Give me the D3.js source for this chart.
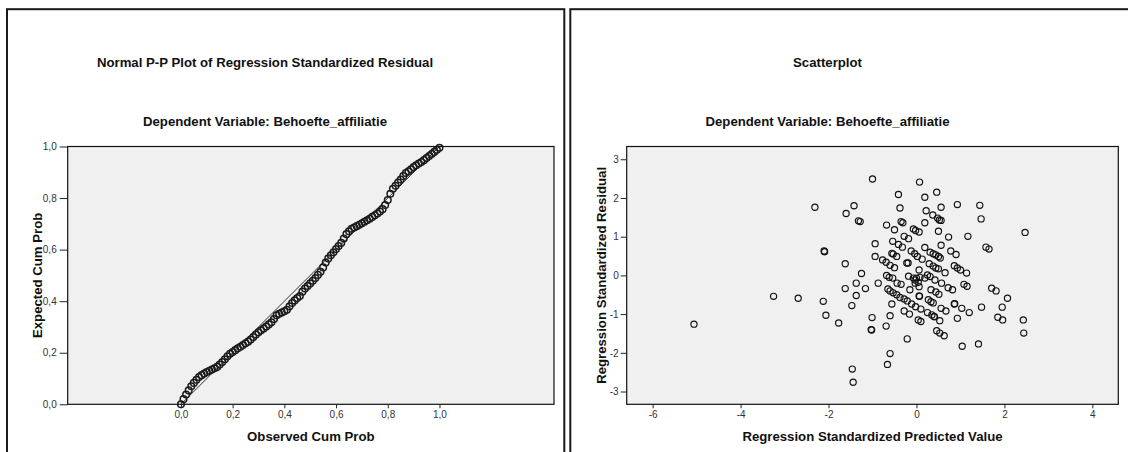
<!DOCTYPE html>
<html>
<head>
<meta charset="utf-8">
<script src="https://cdn.jsdelivr.net/npm/d3@7"></script>
<style>
  html, body { margin: 0; padding: 0; background: #fff; }
  svg { display: block; font-family: Arial, "Liberation Sans", sans-serif; }
</style>
</head>
<body>
<svg id="chart" width="1128" height="452"></svg>
<script>
// ---------- Data ----------
const ppTitle = "Normal P-P Plot of Regression Standardized Residual";
const scTitle = "Scatterplot";
const subTitle = "Dependent Variable: Behoefte_affiliatie";

const ppTicks = [0, 0.2, 0.4, 0.6, 0.8, 1.0];
const scXTicks = [-6, -4, -2, 0, 2, 4];
const scYTicks = [-3, -2, -1, 0, 1, 2, 3];

const ppObserved = [
  0.00,0.01,0.02,0.03,0.04,0.05,0.06,0.07,0.08,0.09,
  0.10,0.11,0.12,0.13,0.14,0.15,0.16,0.17,0.18,0.19,
  0.20,0.21,0.22,0.23,0.24,0.25,0.26,0.27,0.28,0.29,
  0.30,0.31,0.32,0.33,0.34,0.35,0.36,0.37,0.38,0.39,
  0.40,0.41,0.42,0.43,0.44,0.45,0.46,0.47,0.48,0.49,
  0.50,0.51,0.52,0.53,0.54,0.55,0.56,0.57,0.58,0.59,
  0.60,0.61,0.62,0.63,0.64,0.65,0.66,0.67,0.68,0.69,
  0.70,0.71,0.72,0.73,0.74,0.75,0.76,0.77,0.78,0.79,
  0.80,0.81,0.82,0.83,0.84,0.85,0.86,0.87,0.88,0.89,
  0.90,0.91,0.92,0.93,0.94,0.95,0.96,0.97,0.98,0.99,1.00
];
const ppExpected = [
  0.000,0.020,0.038,0.054,0.070,0.083,0.095,0.106,0.113,0.119,
  0.125,0.130,0.135,0.140,0.145,0.154,0.164,0.175,0.186,0.196,
  0.203,0.210,0.217,0.223,0.230,0.237,0.243,0.251,0.261,0.271,
  0.279,0.287,0.294,0.302,0.310,0.318,0.331,0.345,0.351,0.356,
  0.361,0.367,0.380,0.393,0.403,0.412,0.420,0.437,0.449,0.459,
  0.469,0.479,0.490,0.502,0.514,0.531,0.550,0.566,0.578,0.590,
  0.602,0.614,0.626,0.643,0.660,0.671,0.681,0.686,0.691,0.696,
  0.702,0.708,0.714,0.720,0.727,0.733,0.740,0.748,0.757,0.773,
  0.792,0.817,0.836,0.848,0.860,0.872,0.885,0.897,0.904,0.912,
  0.920,0.927,0.934,0.940,0.947,0.955,0.963,0.971,0.979,0.987,0.995
];

const scPredicted = [
  -5.06,-3.25,-2.69,-2.31,-2.12,-2.06,-2.10,-2.09,-1.77,-1.62,
  -1.62,-1.60,-1.42,-1.32,-1.28,-1.47,-1.37,-1.37,-1.46,-1.44,
  -1.00,-1.25,-1.16,-0.94,-0.94,-0.87,-1.01,-1.03,-1.02,-0.60,
  -0.69,-0.56,-0.21,-0.60,-0.66,-0.41,-0.375,0.07,-0.35,-0.31,
  -0.68,-0.50,-0.07,-0.02,0.06,-0.54,-0.41,-0.32,-0.28,-0.18,
  -0.12,-0.04,0.02,0.13,-0.77,-0.69,-0.60,-0.50,-0.56,-0.53,
  -0.45,-0.22,-0.19,-0.68,-0.62,-0.54,-0.44,-0.35,-0.18,-0.07,
  0.00,0.06,0.46,0.19,0.93,1.44,0.56,1.47,0.22,0.37,
  0.48,0.52,0.56,0.19,0.50,0.73,1.17,2.47,0.56,0.19,
  0.78,0.90,1.58,1.65,0.31,0.38,0.44,0.50,0.54,0.29,
  0.38,0.44,0.50,0.86,0.93,1.00,1.14,0.65,0.25,0.31,
  -0.65,-0.60,-0.53,-0.45,-0.375,-0.28,-0.21,-0.11,-0.02,-0.15,
  -0.28,-0.16,0.04,0.04,-0.03,0.42,0.57,0.72,0.82,1.08,
  1.15,1.71,1.81,2.07,1.95,1.85,1.96,2.43,2.44,1.48,
  1.03,1.20,0.86,0.87,0.93,0.56,0.67,0.46,0.53,0.63,
  1.04,1.41,0.06,0.07,0.08,0.19,-0.03,0.06,0.33,0.44,
  0.51,0.27,0.33,0.38,0.10,0.25,0.35,0.40,0.41,0.53,0.10
];
const scResidual = [
  -1.26,-0.54,-0.59,1.76,-0.67,-1.03,0.63,0.61,-1.23,0.30,
  -0.34,1.60,1.80,1.41,1.39,-0.78,-0.20,-0.52,-2.42,-2.76,
  2.49,0.05,-0.34,0.82,0.49,-0.20,-1.09,-1.40,-1.41,-1.04,
  -1.31,-0.74,-1.64,-2.02,-2.30,2.09,1.74,2.41,1.39,1.36,
  1.30,1.18,1.20,1.16,1.12,0.88,0.80,0.73,1.01,0.95,
  0.63,0.56,0.49,0.42,0.40,0.34,0.26,0.20,0.57,0.55,
  0.49,0.32,0.32,0.00,-0.05,-0.07,-0.20,-0.23,-0.02,-0.07,
  -0.07,0.14,2.15,2.02,1.83,1.81,1.76,1.46,1.67,1.56,
  1.48,1.43,1.42,1.36,1.14,0.99,1.01,1.11,0.78,0.72,
  0.63,0.54,0.73,0.68,0.60,0.56,0.53,0.49,0.45,0.30,
  0.24,0.19,0.17,0.25,0.19,0.14,0.06,0.07,0.01,-0.03,
  -0.35,-0.40,-0.45,-0.50,-0.57,-0.61,-0.66,-0.74,-0.81,-0.37,
  -0.92,-1.00,-0.18,-1.15,-0.12,-0.12,-0.20,-0.32,-0.37,-0.23,
  -0.28,-0.33,-0.40,-0.59,-0.82,-1.08,-1.15,-1.15,-1.49,-0.82,
  -0.85,-0.96,-0.74,-0.73,-1.11,-0.85,-0.92,-1.43,-1.49,-1.56,
  -1.83,-1.77,-0.53,-0.54,-0.05,-0.07,-0.20,-0.29,-0.37,-0.43,
  -0.49,-0.63,-0.68,-0.71,-0.87,-0.96,-1.02,-1.06,-1.07,-1.17,-1.19
];

// ---------- Drawing ----------
const svg = d3.select("#chart");
const commaFmt = d => d3.format(".1f")(d).replace(".", ",");
const intFmt = d => String(d);

// panel frames
svg.append("rect").attr("x", 7).attr("y", 9.2).attr("width", 557.3).attr("height", 460)
  .attr("fill", "none").attr("stroke", "#1a1a1a").attr("stroke-width", 2);
svg.append("rect").attr("x", 570.3).attr("y", 9.2).attr("width", 580).attr("height", 460)
  .attr("fill", "none").attr("stroke", "#1a1a1a").attr("stroke-width", 2);

const plotTop = 146.5, plotBottom = 404.3;
const bigFont = 13.2;

function titles(cx, t1) {
  svg.append("text").attr("x", cx).attr("y", 67).attr("text-anchor", "middle")
    .attr("font-size", bigFont).attr("font-weight", "bold").attr("fill", "#111").text(t1);
  svg.append("text").attr("x", cx).attr("y", 126).attr("text-anchor", "middle")
    .attr("font-size", bigFont).attr("font-weight", "bold").attr("fill", "#111").text(subTitle);
}

function styleAxis(g) {
  g.select(".domain").remove();
  g.selectAll(".tick line").attr("stroke", "#222");
  g.selectAll(".tick text").attr("font-size", 10).attr("fill", "#333")
    .attr("font-family", "Arial, 'Liberation Sans', sans-serif");
}

// ---- Left: P-P plot ----
const pL = 67.7, pR = 554;
const xP = d3.scaleLinear().domain([-0.438, 1.443]).range([pL, pR]);
const yP = d3.scaleLinear().domain([0, 1]).range([plotBottom, plotTop]);

titles(265, ppTitle);

svg.append("rect").attr("x", pL).attr("y", plotTop).attr("width", pR - pL).attr("height", plotBottom - plotTop)
  .attr("fill", "#f0f0f0");

// reference line
svg.append("line").attr("x1", xP(0)).attr("y1", yP(0)).attr("x2", xP(1)).attr("y2", yP(1))
  .attr("stroke", "#333").attr("stroke-width", 1);

svg.append("g").selectAll("circle").data(ppObserved.map((d, i) => [d, ppExpected[i]]))
  .join("circle")
  .attr("cx", d => xP(d[0])).attr("cy", d => yP(d[1])).attr("r", 3.3)
  .attr("fill", "none").attr("stroke", "#1a1a1a").attr("stroke-width", 1.5);

svg.append("rect").attr("x", pL).attr("y", plotTop).attr("width", pR - pL).attr("height", plotBottom - plotTop)
  .attr("fill", "none").attr("stroke", "#111").attr("stroke-width", 1.2);

svg.append("g").attr("transform", `translate(0,${plotBottom})`)
  .call(d3.axisBottom(xP).tickValues(ppTicks).tickFormat(commaFmt).tickSize(4).tickPadding(3))
  .call(styleAxis);
svg.append("g").attr("transform", `translate(${pL},0)`)
  .call(d3.axisLeft(yP).tickValues(ppTicks).tickFormat(commaFmt).tickSize(8).tickPadding(3))
  .call(styleAxis);

svg.append("text").attr("x", (pL + pR) / 2).attr("y", 441).attr("text-anchor", "middle")
  .attr("font-size", bigFont).attr("font-weight", "bold").attr("fill", "#111").text("Observed Cum Prob");
svg.append("text").attr("transform", `translate(41.5,${(plotTop + plotBottom) / 2}) rotate(-90)`)
  .attr("text-anchor", "middle").attr("font-size", bigFont).attr("font-weight", "bold").attr("fill", "#111")
  .text("Expected Cum Prob");

// ---- Right: Scatterplot ----
const sL = 626.7, sR = 1118.3;
const xS = d3.scaleLinear().domain([-6.59, 4.59]).range([sL, sR]);
const yS = d3.scaleLinear().domain([-3.33, 3.33]).range([plotBottom, plotTop]);

titles(827.5, scTitle);

svg.append("rect").attr("x", sL).attr("y", plotTop).attr("width", sR - sL).attr("height", plotBottom - plotTop)
  .attr("fill", "#f0f0f0");

svg.append("g").selectAll("circle").data(scPredicted.map((d, i) => [d, scResidual[i]]))
  .join("circle")
  .attr("cx", d => xS(d[0])).attr("cy", d => yS(d[1])).attr("r", 3.1)
  .attr("fill", "none").attr("stroke", "#111").attr("stroke-width", 1.15);

svg.append("rect").attr("x", sL).attr("y", plotTop).attr("width", sR - sL).attr("height", plotBottom - plotTop)
  .attr("fill", "none").attr("stroke", "#111").attr("stroke-width", 1.2);

svg.append("g").attr("transform", `translate(0,${plotBottom})`)
  .call(d3.axisBottom(xS).tickValues(scXTicks).tickFormat(intFmt).tickSize(4).tickPadding(3))
  .call(styleAxis);
svg.append("g").attr("transform", `translate(${sL},0)`)
  .call(d3.axisLeft(yS).tickValues(scYTicks).tickFormat(intFmt).tickSize(6).tickPadding(2))
  .call(styleAxis);

svg.append("text").attr("x", (sL + sR) / 2).attr("y", 441).attr("text-anchor", "middle")
  .attr("font-size", bigFont).attr("font-weight", "bold").attr("fill", "#111").text("Regression Standardized Predicted Value");
svg.append("text").attr("transform", `translate(606,${(plotTop + plotBottom) / 2}) rotate(-90)`)
  .attr("text-anchor", "middle").attr("font-size", bigFont).attr("font-weight", "bold").attr("fill", "#111")
  .text("Regression Standardized Residual");
</script>
</body>
</html>
